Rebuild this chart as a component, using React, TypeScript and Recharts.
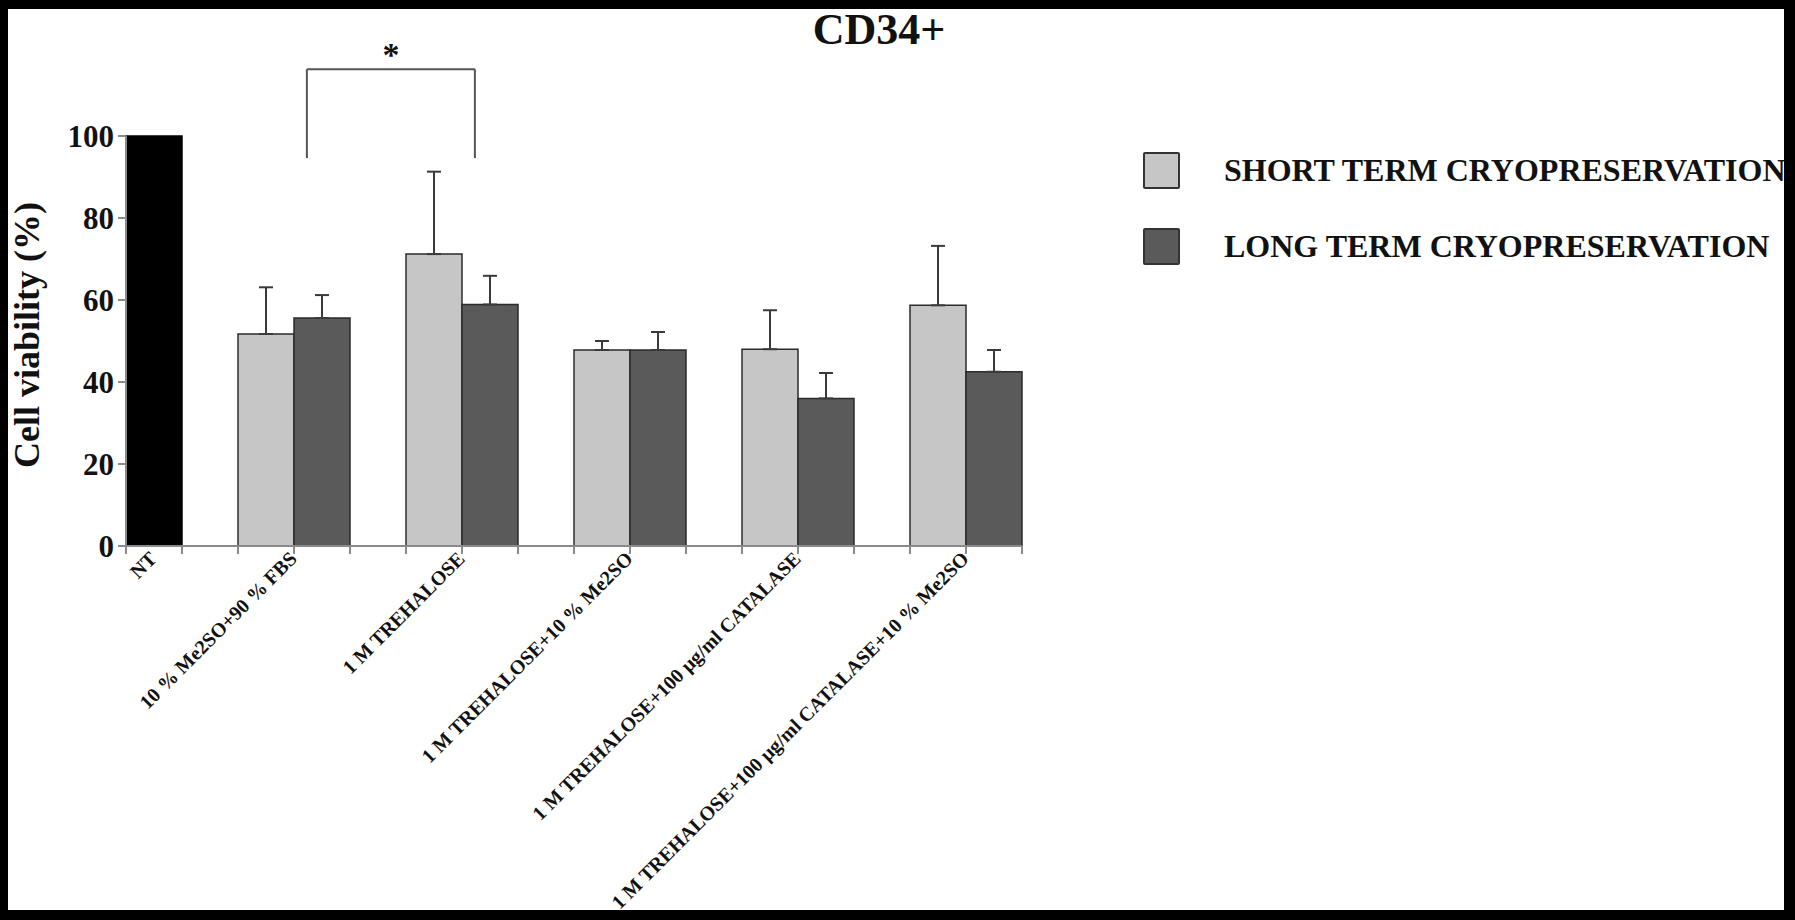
import React from 'react';
import { BarChart, Bar, XAxis, YAxis, ErrorBar, Cell, Legend, ReferenceLine } from 'recharts';

// ---------- data ----------
const categories = [
  'NT',
  '10 % Me2SO+90 % FBS',
  '1 M TREHALOSE',
  '1 M TREHALOSE+10 % Me2SO',
  '1 M TREHALOSE+100 µg/ml CATALASE',
  '1 M TREHALOSE+100 µg/ml CATALASE+10 % Me2SO',
];
const shortTerm: (number | null)[] = [null, 51.7, 71.2, 47.8, 48.0, 58.7];
const shortErr: (number | null)[] = [null, 11.4, 20.1, 2.2, 9.5, 14.5];
const longTerm: (number | null)[] = [100, 55.6, 58.9, 47.8, 36.0, 42.5];
const longErr: (number | null)[] = [null, 5.6, 7.0, 4.4, 6.2, 5.3];
const yTicks = [0, 20, 40, 60, 80, 100];
const seriesNames = ['SHORT TERM CRYOPRESERVATION', 'LONG TERM CRYOPRESERVATION'];
const significance = [{ from: 1, to: 2, base: 94.6, top: 116.3, label: '*' }];

// ---------- layout ----------
const W = 1795;
const H = 920;
const plotLeft = 126;
const plotRight = 1022;
const plotTop = 136;
const plotBottom = 546;
const slot = (plotRight - plotLeft) / 16;
const yAxisW = 60;
const xAxisH = 300;
const bracketDx = slot * 0.23;

const SHORT = '#c6c6c6';
const LONG = '#5a5a5a';
const NT = '#000000';
const AXIS = '#8a8a8a';
const FONT = "'Liberation Serif', 'Times New Roman', serif";

const data = categories.map((name, i) => ({
  name,
  short: shortTerm[i],
  long: longTerm[i],
  shortErr: shortErr[i] == null ? null : [0, shortErr[i] as number],
  longErr: longErr[i] == null ? null : [0, longErr[i] as number],
}));

const XTick = (props: any) => {
  const { x, payload } = props;
  const isNT = payload.value === categories[0];
  const lines = [-slot, 0, slot].map((d) => x + d).filter((px) => px >= plotLeft - 0.5 && px <= plotRight + 0.5);
  const ax = (isNT ? x + slot / 2 : x) + 4;
  const ay = plotBottom + 14;
  return (
    <g>
      {lines.map((px, i) => (
        <line key={i} x1={px} x2={px} y1={plotBottom} y2={plotBottom + 8} stroke={AXIS} strokeWidth={2} />
      ))}
      <text
        x={ax}
        y={ay}
        transform={`rotate(-45, ${ax}, ${ay})`}
        textAnchor="end"
        fontFamily={FONT}
        fontWeight="bold"
        fontSize={20}
        fill="#111"
      >
        {payload.value}
      </text>
    </g>
  );
};

const LegendContent = (props: any) => {
  const payload = [...(props.payload || [])].sort(
    (a: any, b: any) => seriesNames.indexOf(a.value) - seriesNames.indexOf(b.value)
  );
  return (
    <div style={{ fontFamily: FONT, fontWeight: 'bold', fontSize: 32, color: '#111' }}>
      {payload.map((p: any, i: number) => (
        <div key={i} style={{ display: 'flex', alignItems: 'center', height: 38, marginBottom: 38, whiteSpace: 'nowrap' }}>
          <div
            style={{
              width: 33,
              height: 33,
              background: p.color,
              border: '2.5px solid #333',
              borderRadius: 2,
              marginRight: 44,
            }}
          />
          <span>{p.value}</span>
        </div>
      ))}
    </div>
  );
};

const YLabel = () => {
  const cx = 27;
  const cy = (plotTop + plotBottom) / 2 - 6;
  return (
    <text
      x={cx}
      y={cy}
      transform={`rotate(-90, ${cx}, ${cy})`}
      textAnchor="middle"
      dominantBaseline="central"
      fontFamily={FONT}
      fontWeight="bold"
      fontSize={36}
      fill="#111"
    >
      Cell viability (%)
    </text>
  );
};

const ShiftedLine = (props: any) => (
  <line
    x1={props.x1 + bracketDx}
    y1={props.y1}
    x2={props.x2 + bracketDx}
    y2={props.y2}
    stroke="#555"
    strokeWidth={2}
  />
);

const StarLabel = (text: string) => (props: any) => {
  const vb = props.viewBox || {};
  const x = (vb.x || 0) + (vb.width || 0) / 2 + bracketDx;
  const y = (vb.y || 0) - 3;
  return (
    <text x={x} y={y} textAnchor="middle" fontFamily={FONT} fontWeight="bold" fontSize={34} fill="#111">
      {text}
    </text>
  );
};

export default function App() {
  return (
    <div style={{ position: 'absolute', left: 0, top: 0, width: W, height: H, background: '#fff', overflow: 'hidden' }}>
      <div
        style={{
          position: 'absolute',
          left: 0,
          width: 1758,
          top: 8,
          textAlign: 'center',
          fontFamily: FONT,
          fontWeight: 'bold',
          fontSize: 44,
          lineHeight: '44px',
          color: '#111',
        }}
      >
        CD34+
      </div>
      <BarChart
        width={W}
        height={H}
        data={data}
        barGap={0}
        barCategoryGap={slot / 2}
        margin={{ top: plotTop, right: W - plotRight, left: plotLeft - yAxisW, bottom: H - plotBottom - xAxisH }}
      >
        <XAxis
          dataKey="name"
          interval={0}
          height={xAxisH}
          padding={{ left: -1.5 * slot, right: -0.5 * slot }}
          axisLine={{ stroke: AXIS, strokeWidth: 2 }}
          tickLine={false}
          tick={<XTick />}
        />
        <YAxis
          width={yAxisW}
          domain={[0, 100]}
          ticks={yTicks}
          interval={0}
          axisLine={{ stroke: AXIS, strokeWidth: 2 }}
          tickLine={{ stroke: AXIS, strokeWidth: 2 }}
          tickSize={8}
          tickMargin={4}
          tick={{ fontFamily: FONT, fontWeight: 'bold', fontSize: 31, fill: '#111' }}
          label={<YLabel />}
        />
        <Legend
          layout="vertical"
          align="center"
          verticalAlign="middle"
          wrapperStyle={{ left: 1143, top: 151, width: 650 }}
          content={<LegendContent />}
        />
        <Bar dataKey="short" name={seriesNames[0]} fill={SHORT} stroke="#2b2b2b" strokeWidth={1.5} isAnimationActive={false}>
          <ErrorBar dataKey="shortErr" width={7} stroke="#3a3a3a" strokeWidth={2} direction="y" />
        </Bar>
        <Bar dataKey="long" name={seriesNames[1]} fill={LONG} stroke="#2b2b2b" strokeWidth={1.5} isAnimationActive={false}>
          {data.map((d, i) => (
            <Cell key={i} fill={i === 0 ? NT : LONG} stroke={i === 0 ? NT : '#2b2b2b'} />
          ))}
          <ErrorBar dataKey="longErr" width={7} stroke="#3a3a3a" strokeWidth={2} direction="y" />
        </Bar>
        {significance.map((s, i) => (
          <ReferenceLine
            key={`l${i}`}
            segment={[{ x: categories[s.from], y: s.base }, { x: categories[s.from], y: s.top }]}
            ifOverflow="visible"
            shape={<ShiftedLine />}
          />
        ))}
        {significance.map((s, i) => (
          <ReferenceLine
            key={`t${i}`}
            segment={[{ x: categories[s.from], y: s.top }, { x: categories[s.to], y: s.top }]}
            ifOverflow="visible"
            shape={<ShiftedLine />}
            label={StarLabel(s.label)}
          />
        ))}
        {significance.map((s, i) => (
          <ReferenceLine
            key={`r${i}`}
            segment={[{ x: categories[s.to], y: s.top }, { x: categories[s.to], y: s.base }]}
            ifOverflow="visible"
            shape={<ShiftedLine />}
          />
        ))}
      </BarChart>
      <div
        style={{
          position: 'absolute',
          inset: 0,
          borderStyle: 'solid',
          borderColor: '#000',
          borderWidth: '9px 11px 10px 8px',
          boxSizing: 'border-box',
          pointerEvents: 'none',
        }}
      />
    </div>
  );
}
